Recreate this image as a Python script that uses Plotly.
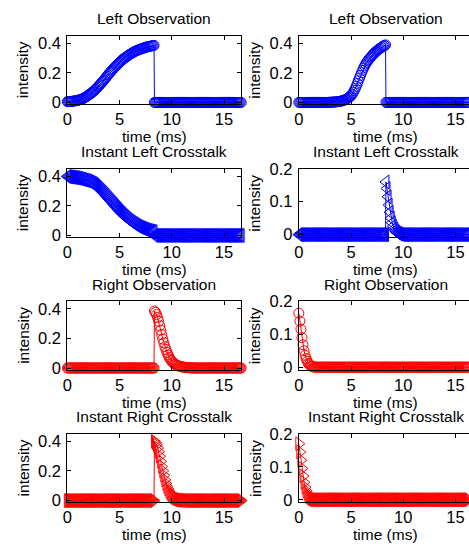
import plotly.graph_objects as go

# ---------------- data ----------------
# frame 1: 0.0 .. 8.3 ms, frame 2: 8.34 .. 16.64 ms (0.1 ms samples)
time_ms = [
    0.0, 0.1, 0.2, 0.3, 0.4, 0.5, 0.6, 0.7, 0.8, 0.9,
    1.0, 1.1, 1.2, 1.3, 1.4, 1.5, 1.6, 1.7, 1.8, 1.9,
    2.0, 2.1, 2.2, 2.3, 2.4, 2.5, 2.6, 2.7, 2.8, 2.9,
    3.0, 3.1, 3.2, 3.3, 3.4, 3.5, 3.6, 3.7, 3.8, 3.9,
    4.0, 4.1, 4.2, 4.3, 4.4, 4.5, 4.6, 4.7, 4.8, 4.9,
    5.0, 5.1, 5.2, 5.3, 5.4, 5.5, 5.6, 5.7, 5.8, 5.9,
    6.0, 6.1, 6.2, 6.3, 6.4, 6.5, 6.6, 6.7, 6.8, 6.9,
    7.0, 7.1, 7.2, 7.3, 7.4, 7.5, 7.6, 7.7, 7.8, 7.9,
    8.0, 8.1, 8.2, 8.3,
    8.34, 8.44, 8.54, 8.64, 8.74, 8.84, 8.94, 9.04, 9.14, 9.24,
    9.34, 9.44, 9.54, 9.64, 9.74, 9.84, 9.94, 10.04, 10.14, 10.24,
    10.34, 10.44, 10.54, 10.64, 10.74, 10.84, 10.94, 11.04, 11.14, 11.24,
    11.34, 11.44, 11.54, 11.64, 11.74, 11.84, 11.94, 12.04, 12.14, 12.24,
    12.34, 12.44, 12.54, 12.64, 12.74, 12.84, 12.94, 13.04, 13.14, 13.24,
    13.34, 13.44, 13.54, 13.64, 13.74, 13.84, 13.94, 14.04, 14.14, 14.24,
    14.34, 14.44, 14.54, 14.64, 14.74, 14.84, 14.94, 15.04, 15.14, 15.24,
    15.34, 15.44, 15.54, 15.64, 15.74, 15.84, 15.94, 16.04, 16.14, 16.24,
    16.34, 16.44, 16.54, 16.64,
]

left_obs_a = [
    0.005, 0.005, 0.006, 0.006, 0.007, 0.008, 0.009, 0.010, 0.011, 0.012,
    0.014, 0.016, 0.018, 0.020, 0.023, 0.026, 0.030, 0.034, 0.038, 0.043,
    0.048, 0.053, 0.058, 0.063, 0.069, 0.075, 0.082, 0.088, 0.095, 0.103,
    0.110, 0.118, 0.126, 0.134, 0.142, 0.150, 0.159, 0.168, 0.177, 0.186,
    0.195, 0.203, 0.211, 0.219, 0.227, 0.235, 0.242, 0.249, 0.256, 0.263,
    0.270, 0.276, 0.283, 0.289, 0.295, 0.300, 0.305, 0.310, 0.315, 0.320,
    0.325, 0.329, 0.333, 0.337, 0.341, 0.345, 0.348, 0.351, 0.354, 0.357,
    0.360, 0.362, 0.364, 0.367, 0.369, 0.372, 0.374, 0.375, 0.377, 0.378,
    0.380, 0.382, 0.383, 0.385,
    0, 0, 0, 0, 0, 0, 0, 0, 0, 0,
    0, 0, 0, 0, 0, 0, 0, 0, 0, 0,
    0, 0, 0, 0, 0, 0, 0, 0, 0, 0,
    0, 0, 0, 0, 0, 0, 0, 0, 0, 0,
    0, 0, 0, 0, 0, 0, 0, 0, 0, 0,
    0, 0, 0, 0, 0, 0, 0, 0, 0, 0,
    0, 0, 0, 0, 0, 0, 0, 0, 0, 0,
    0, 0, 0, 0, 0, 0, 0, 0, 0, 0,
    0, 0, 0, 0,
]

left_obs_b = [
    0, 0, 0, 0, 0, 0, 0, 0, 0, 0,
    0, 0, 0, 0, 0, 0, 0, 0, 0, 0,
    0, 0, 0, 0, 0, 0, 0, 0, 0, 0.001,
    0.001, 0.001, 0.002, 0.002, 0.003, 0.003, 0.004, 0.005, 0.006, 0.007,
    0.008, 0.010, 0.012, 0.014, 0.017, 0.020, 0.024, 0.029, 0.034, 0.039,
    0.045, 0.055, 0.066, 0.080, 0.094, 0.110, 0.128, 0.146, 0.164, 0.182,
    0.200, 0.216, 0.232, 0.246, 0.259, 0.270, 0.280, 0.290, 0.299, 0.307,
    0.315, 0.323, 0.331, 0.338, 0.344, 0.350, 0.356, 0.361, 0.366, 0.371,
    0.376, 0.380, 0.384, 0.388,
    0, 0, 0, 0, 0, 0, 0, 0, 0, 0,
    0, 0, 0, 0, 0, 0, 0, 0, 0, 0,
    0, 0, 0, 0, 0, 0, 0, 0, 0, 0,
    0, 0, 0, 0, 0, 0, 0, 0, 0, 0,
    0, 0, 0, 0, 0, 0, 0, 0, 0, 0,
    0, 0, 0, 0, 0, 0, 0, 0, 0, 0,
    0, 0, 0, 0, 0, 0, 0, 0, 0, 0,
    0, 0, 0, 0, 0, 0, 0, 0, 0, 0,
    0, 0, 0, 0,
]

left_xtalk_a = [
    0.398, 0.397, 0.396, 0.395, 0.394, 0.393, 0.392, 0.391, 0.390, 0.389,
    0.388, 0.386, 0.384, 0.382, 0.380, 0.378, 0.376, 0.374, 0.372, 0.370,
    0.368, 0.365, 0.361, 0.357, 0.354, 0.350, 0.345, 0.340, 0.334, 0.327,
    0.320, 0.313, 0.306, 0.299, 0.292, 0.285, 0.277, 0.269, 0.261, 0.253,
    0.245, 0.237, 0.229, 0.221, 0.213, 0.205, 0.197, 0.189, 0.181, 0.173,
    0.165, 0.158, 0.151, 0.144, 0.137, 0.130, 0.124, 0.118, 0.111, 0.106,
    0.100, 0.095, 0.090, 0.084, 0.080, 0.075, 0.071, 0.066, 0.062, 0.058,
    0.055, 0.052, 0.049, 0.046, 0.043, 0.040, 0.038, 0.036, 0.034, 0.032,
    0.030, 0.028, 0.027, 0.025,
    0, 0, 0, 0, 0, 0, 0, 0, 0, 0,
    0, 0, 0, 0, 0, 0, 0, 0, 0, 0,
    0, 0, 0, 0, 0, 0, 0, 0, 0, 0,
    0, 0, 0, 0, 0, 0, 0, 0, 0, 0,
    0, 0, 0, 0, 0, 0, 0, 0, 0, 0,
    0, 0, 0, 0, 0, 0, 0, 0, 0, 0,
    0, 0, 0, 0, 0, 0, 0, 0, 0, 0,
    0, 0, 0, 0, 0, 0, 0, 0, 0, 0,
    0, 0, 0, 0,
]

left_xtalk_b = [
    0, 0, 0, 0, 0, 0, 0, 0, 0, 0,
    0, 0, 0, 0, 0, 0, 0, 0, 0, 0,
    0, 0, 0, 0, 0, 0, 0, 0, 0, 0,
    0, 0, 0, 0, 0, 0, 0, 0, 0, 0,
    0, 0, 0, 0, 0, 0, 0, 0, 0, 0,
    0, 0, 0, 0, 0, 0, 0, 0, 0, 0,
    0, 0, 0, 0, 0, 0, 0, 0, 0, 0,
    0, 0, 0, 0, 0, 0, 0, 0, 0, 0,
    0, 0, 0, 0,
    0.160, 0.140, 0.115, 0.090, 0.068, 0.050, 0.036, 0.026, 0.018, 0.012,
    0.008, 0.005, 0.003, 0.002, 0.001, 0, 0, 0, 0, 0,
    0, 0, 0, 0, 0, 0, 0, 0, 0, 0,
    0, 0, 0, 0, 0, 0, 0, 0, 0, 0,
    0, 0, 0, 0, 0, 0, 0, 0, 0, 0,
    0, 0, 0, 0, 0, 0, 0, 0, 0, 0,
    0, 0, 0, 0, 0, 0, 0, 0, 0, 0,
    0, 0, 0, 0, 0, 0, 0, 0, 0, 0,
    0, 0, 0, 0,
]

right_obs_a = [
    0, 0, 0, 0, 0, 0, 0, 0, 0, 0,
    0, 0, 0, 0, 0, 0, 0, 0, 0, 0,
    0, 0, 0, 0, 0, 0, 0, 0, 0, 0,
    0, 0, 0, 0, 0, 0, 0, 0, 0, 0,
    0, 0, 0, 0, 0, 0, 0, 0, 0, 0,
    0, 0, 0, 0, 0, 0, 0, 0, 0, 0,
    0, 0, 0, 0, 0, 0, 0, 0, 0, 0,
    0, 0, 0, 0, 0, 0, 0, 0, 0, 0,
    0, 0, 0, 0,
    0.385, 0.375, 0.360, 0.340, 0.315, 0.285, 0.255, 0.225, 0.195, 0.170,
    0.145, 0.125, 0.105, 0.088, 0.073, 0.060, 0.051, 0.042, 0.035, 0.029,
    0.024, 0.020, 0.017, 0.014, 0.012, 0.010, 0.008, 0.007, 0.006, 0.005,
    0.003, 0.003, 0.002, 0.002, 0.001, 0.001, 0.001, 0, 0, 0,
    0, 0, 0, 0, 0, 0, 0, 0, 0, 0,
    0, 0, 0, 0, 0, 0, 0, 0, 0, 0,
    0, 0, 0, 0, 0, 0, 0, 0, 0, 0,
    0, 0, 0, 0, 0, 0, 0, 0, 0, 0,
    0, 0, 0, 0,
]

right_obs_b = [
    0.164, 0.140, 0.115, 0.090, 0.068, 0.050, 0.036, 0.026, 0.018, 0.012,
    0.008, 0.005, 0.003, 0.002, 0.001, 0, 0, 0, 0, 0,
    0, 0, 0, 0, 0, 0, 0, 0, 0, 0,
    0, 0, 0, 0, 0, 0, 0, 0, 0, 0,
    0, 0, 0, 0, 0, 0, 0, 0, 0, 0,
    0, 0, 0, 0, 0, 0, 0, 0, 0, 0,
    0, 0, 0, 0, 0, 0, 0, 0, 0, 0,
    0, 0, 0, 0, 0, 0, 0, 0, 0, 0,
    0, 0, 0, 0,
    0, 0, 0, 0, 0, 0, 0, 0, 0, 0,
    0, 0, 0, 0, 0, 0, 0, 0, 0, 0,
    0, 0, 0, 0, 0, 0, 0, 0, 0, 0,
    0, 0, 0, 0, 0, 0, 0, 0, 0, 0,
    0, 0, 0, 0, 0, 0, 0, 0, 0, 0,
    0, 0, 0, 0, 0, 0, 0, 0, 0, 0,
    0, 0, 0, 0, 0, 0, 0, 0, 0, 0,
    0, 0, 0, 0, 0, 0, 0, 0, 0, 0,
    0, 0, 0, 0,
]

right_xtalk_a = [
    0, 0, 0, 0, 0, 0, 0, 0, 0, 0,
    0, 0, 0, 0, 0, 0, 0, 0, 0, 0,
    0, 0, 0, 0, 0, 0, 0, 0, 0, 0,
    0, 0, 0, 0, 0, 0, 0, 0, 0, 0,
    0, 0, 0, 0, 0, 0, 0, 0, 0, 0,
    0, 0, 0, 0, 0, 0, 0, 0, 0, 0,
    0, 0, 0, 0, 0, 0, 0, 0, 0, 0,
    0, 0, 0, 0, 0, 0, 0, 0, 0, 0,
    0, 0, 0, 0,
    0.400, 0.390, 0.375, 0.355, 0.330, 0.300, 0.265, 0.230, 0.200, 0.170,
    0.140, 0.115, 0.095, 0.077, 0.062, 0.050, 0.041, 0.034, 0.028, 0.023,
    0.019, 0.015, 0.012, 0.009, 0.007, 0.005, 0.004, 0.003, 0.002, 0.002,
    0.001, 0.001, 0.001, 0, 0, 0, 0, 0, 0, 0,
    0, 0, 0, 0, 0, 0, 0, 0, 0, 0,
    0, 0, 0, 0, 0, 0, 0, 0, 0, 0,
    0, 0, 0, 0, 0, 0, 0, 0, 0, 0,
    0, 0, 0, 0, 0, 0, 0, 0, 0, 0,
    0, 0, 0, 0,
]

right_xtalk_b = [
    0.170, 0.145, 0.120, 0.095, 0.072, 0.053, 0.038, 0.027, 0.019, 0.013,
    0.009, 0.006, 0.004, 0.002, 0.001, 0, 0, 0, 0, 0,
    0, 0, 0, 0, 0, 0, 0, 0, 0, 0,
    0, 0, 0, 0, 0, 0, 0, 0, 0, 0,
    0, 0, 0, 0, 0, 0, 0, 0, 0, 0,
    0, 0, 0, 0, 0, 0, 0, 0, 0, 0,
    0, 0, 0, 0, 0, 0, 0, 0, 0, 0,
    0, 0, 0, 0, 0, 0, 0, 0, 0, 0,
    0, 0, 0, 0,
    0, 0, 0, 0, 0, 0, 0, 0, 0, 0,
    0, 0, 0, 0, 0, 0, 0, 0, 0, 0,
    0, 0, 0, 0, 0, 0, 0, 0, 0, 0,
    0, 0, 0, 0, 0, 0, 0, 0, 0, 0,
    0, 0, 0, 0, 0, 0, 0, 0, 0, 0,
    0, 0, 0, 0, 0, 0, 0, 0, 0, 0,
    0, 0, 0, 0, 0, 0, 0, 0, 0, 0,
    0, 0, 0, 0, 0, 0, 0, 0, 0, 0,
    0, 0, 0, 0,
]

titles = ["Left Observation", "Instant Left Crosstalk",
          "Right Observation", "Instant Right Crosstalk"]
x_label = "time (ms)"
y_label = "intensity"
y_ticks_big = [0, 0.2, 0.4]
y_ticks_small = [0, 0.1, 0.2]
x_ticks = [0, 5, 10, 15]

# ---------------- layout geometry (pixels) ----------------
W, H = 469, 555
FONT = "Liberation Sans"
row_top = [27.5, 164.5, 301.0, 437.5]
row_h = 70.5
col_px = [(63.0, 239.0), (297.0, 469.0)]
x_full = 16.67
px_per_ms = (col_px[0][1] - col_px[0][0]) / x_full
x_ranges = [[0, x_full], [0, (col_px[1][1] - col_px[1][0]) / px_per_ms]]
yr_big = [-0.012, 0.45]
yr_small = [-0.008, 0.2001]

BLUE = "#0000ff"
RED = "#ff0000"

panels = [
    # (row, col, series, color, symbol, msize, yrange, yticks)
    (0, 0, left_obs_a, BLUE, "circle-open", 10, yr_big, y_ticks_big),
    (0, 1, left_obs_b, BLUE, "circle-open", 10, yr_big, y_ticks_big),
    (1, 0, left_xtalk_a, BLUE, "triangle-left-open", 12, yr_big, y_ticks_big),
    (1, 1, left_xtalk_b, BLUE, "triangle-left-open", 12, yr_small, y_ticks_small),
    (2, 0, right_obs_a, RED, "circle-open", 10, yr_big, y_ticks_big),
    (2, 1, right_obs_b, RED, "circle-open", 10, yr_small, y_ticks_small),
    (3, 0, right_xtalk_a, RED, "triangle-right-open", 12, yr_big, y_ticks_big),
    (3, 1, right_xtalk_b, RED, "triangle-right-open", 12, yr_small, y_ticks_small),
]

fig = go.Figure()
layout = dict(
    width=W, height=H, margin=dict(l=0, r=0, t=0, b=0),
    paper_bgcolor="white", plot_bgcolor="white", showlegend=False,
    font=dict(family=FONT, size=16, color="black"),
)
annotations = []

for i, (r, c, ys, color, sym, msize, yr, yt) in enumerate(panels):
    n = i + 1
    xa = "x" if n == 1 else f"x{n}"
    ya = "y" if n == 1 else f"y{n}"
    fig.add_trace(go.Scatter(
        x=time_ms, y=ys, xaxis=xa, yaxis=ya, mode="lines+markers",
        line=dict(color=color, width=1),
        marker=dict(symbol=sym, size=msize, color=color, line=dict(width=1, color=color)),
        cliponaxis=False, hoverinfo="skip",
    ))
    x0, x1 = col_px[c]
    top = row_top[r]
    bot = top + row_h
    xdom = [x0 / W, x1 / W]
    ydom = [1 - bot / H, 1 - top / H]
    axis_common = dict(
        showline=True, linecolor="black", linewidth=1,
        ticks="inside", ticklen=4, tickwidth=1, tickcolor="black",
        showgrid=False, zeroline=False,
        tickfont=dict(family=FONT, size=16.5, color="black"),
        fixedrange=True,
    )
    layout["xaxis" if n == 1 else f"xaxis{n}"] = dict(
        axis_common, domain=xdom, range=x_ranges[c], anchor=ya,
        tickvals=x_ticks, ticktext=[str(v) for v in x_ticks],
        mirror="ticks", ticklabelstandoff=0,
    )
    layout["yaxis" if n == 1 else f"yaxis{n}"] = dict(
        axis_common, domain=ydom, range=yr, anchor=xa,
        tickvals=yt, ticktext=[("0" if v == 0 else f"{v:g}") for v in yt],
        mirror=("ticks" if c == 0 else False), ticklabelstandoff=2,
    )
    cx = x0 + x_full * px_per_ms / 2
    annotations.append(dict(
        text=titles[r], x=cx / W, y=1 - (top - 17.5) / H, xref="paper", yref="paper",
        xanchor="center", yanchor="middle", showarrow=False,
        font=dict(family=FONT, size=15.5, color="black"),
    ))
    annotations.append(dict(
        text=x_label, x=cx / W, y=1 - (bot + 33.5) / H, xref="paper", yref="paper",
        xanchor="center", yanchor="middle", showarrow=False,
        font=dict(family=FONT, size=15.5, color="black"),
    ))
    annotations.append(dict(
        text=y_label, x=(x0 - 44.5) / W, y=1 - (top + row_h / 2) / H, xref="paper", yref="paper",
        xanchor="center", yanchor="middle", showarrow=False, textangle=-90,
        font=dict(family=FONT, size=15.5, color="black"),
    ))

layout["annotations"] = annotations
fig.update_layout(**layout)

fig.write_html("out.html", config={"displayModeBar": False},
               post_script="document.body.style.margin='0';")
